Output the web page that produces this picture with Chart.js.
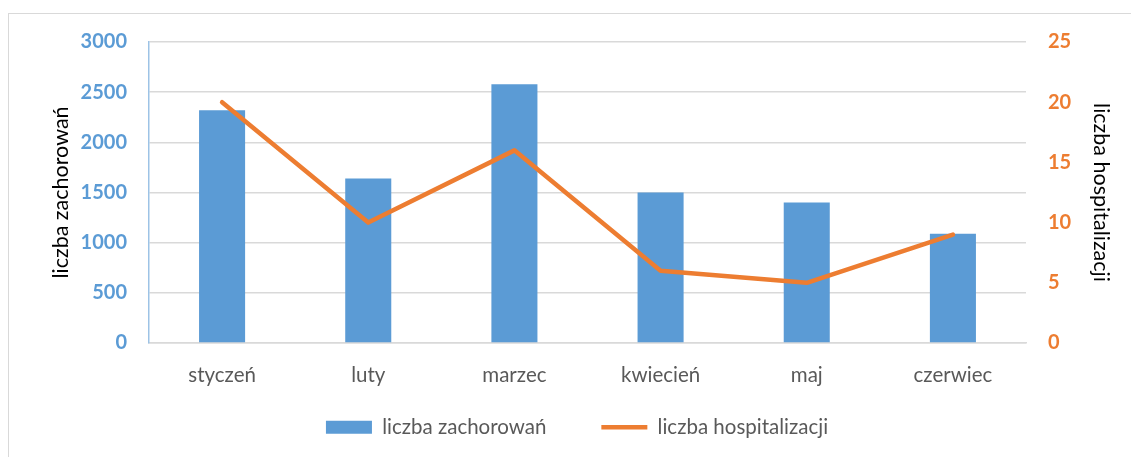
<!DOCTYPE html>
<html>
<head>
<meta charset="utf-8">
<script src="https://cdn.jsdelivr.net/npm/chart.js@4.4.1/dist/chart.umd.min.js"></script>
<style>
    html, body { margin: 0; padding: 0; background: #fff; }
    #wrap { position: relative; width: 1131px; height: 457px; overflow: hidden; }
    #frame { position: absolute; left: 8px; top: 13px; width: 1200px; height: 500px; border: 1.5px solid #d9d9d9; box-sizing: border-box; }
    canvas { position: absolute; left: 0; top: 0; }
</style>
</head>
<body>
<div id="wrap">
    <div id="frame"></div>
    <canvas id="chart" width="1131" height="457"></canvas>
</div>
<script>
const months = ['styczeń', 'luty', 'marzec', 'kwiecień', 'maj', 'czerwiec'];
const zachorowania = [2320, 1640, 2580, 1500, 1400, 1090];
const hospitalizacje = [20, 10, 16, 6, 5, 9];

const blue = '#5B9BD5';
const orange = '#ED7D31';
const fontName = 'Lato';
const legendGap = 55;
const legendBoxH = 59;
const legendShift = 36;

// legend items need a wide horizontal gap, but the legend box must stay low
const legendFit = {
    id: 'legendFit',
    beforeLayout(chart) {
        const lg = chart.legend;
        if (lg && !lg._patched) {
            const origFit = lg.fit.bind(lg);
            lg.fit = function () {
                origFit();
                this.height = legendBoxH;
            };
            const origDraw = lg.draw.bind(lg);
            lg.draw = function () {
                const t = this.top;
                this.top = t - legendShift;
                origDraw();
                this.top = t;
            };
            lg._patched = true;
        }
    }
};

new Chart(document.getElementById('chart'), {
    type: 'bar',
    data: {
        labels: months,
        datasets: [{
            type: 'line',
            label: 'liczba hospitalizacji',
            data: hospitalizacje,
            yAxisID: 'y2',
            borderColor: orange,
            backgroundColor: orange,
            borderWidth: 4.5,
            borderCapStyle: 'round',
            borderJoinStyle: 'round',
            pointRadius: 0,
            pointStyle: 'line',
            tension: 0,
            order: 1
        }, {
            label: 'liczba zachorowań',
            data: zachorowania,
            yAxisID: 'y',
            backgroundColor: blue,
            borderWidth: 0,
            barPercentage: 0.315,
            categoryPercentage: 1,
            pointStyle: 'rect',
            order: 2
        }]
    },
    options: {
        responsive: false,
        animation: false,
        layout: { padding: { left: 40, right: 17, top: 42, bottom: 0 } },
        plugins: {
            tooltip: { enabled: false },
            legend: {
                position: 'bottom',
                reverse: true,
                labels: {
                    usePointStyle: true,
                    pointStyleWidth: 46,
                    boxHeight: 13,
                    padding: legendGap,
                    color: '#595959',
                    font: { family: fontName, size: 20.5 }
                }
            }
        },
        scales: {
            x: {
                grid: { display: false },
                border: { color: '#d9d9d9', width: 1.5 },
                ticks: { color: '#595959', padding: 12, font: { family: fontName, size: 20.5 } },
                afterFit(scale) { scale.height = 55; }
            },
            y: {
                position: 'left',
                min: 0,
                max: 3000,
                ticks: {
                    stepSize: 500, color: blue, padding: 22,
                    font: { family: fontName, size: 20, weight: 'bold' },
                    callback: (v) => String(v)
                },
                grid: { color: '#d9d9d9', lineWidth: 1.5, drawTicks: false },
                border: { display: true, color: '#9dc3e6', width: 1.5 },
                title: { display: true, text: 'liczba zachorowań', color: '#000', padding: { top: 8, bottom: 0 }, font: { family: fontName, size: 21.5 } },
                afterFit(scale) { scale.width = 109; }
            },
            y2: {
                position: 'right',
                min: 0,
                max: 25,
                ticks: {
                    stepSize: 5, color: orange, padding: 22,
                    font: { family: fontName, size: 20, weight: 'bold' },
                    callback: (v) => String(v)
                },
                grid: { display: false, drawTicks: false },
                border: { display: false },
                title: { display: true, text: 'liczba hospitalizacji', color: '#000', padding: { top: 0, bottom: 0 }, font: { family: fontName, size: 21.5 } },
                afterFit(scale) { scale.width = 88; }
            }
        }
    },
    plugins: [legendFit]
});
</script>
</body>
</html>
